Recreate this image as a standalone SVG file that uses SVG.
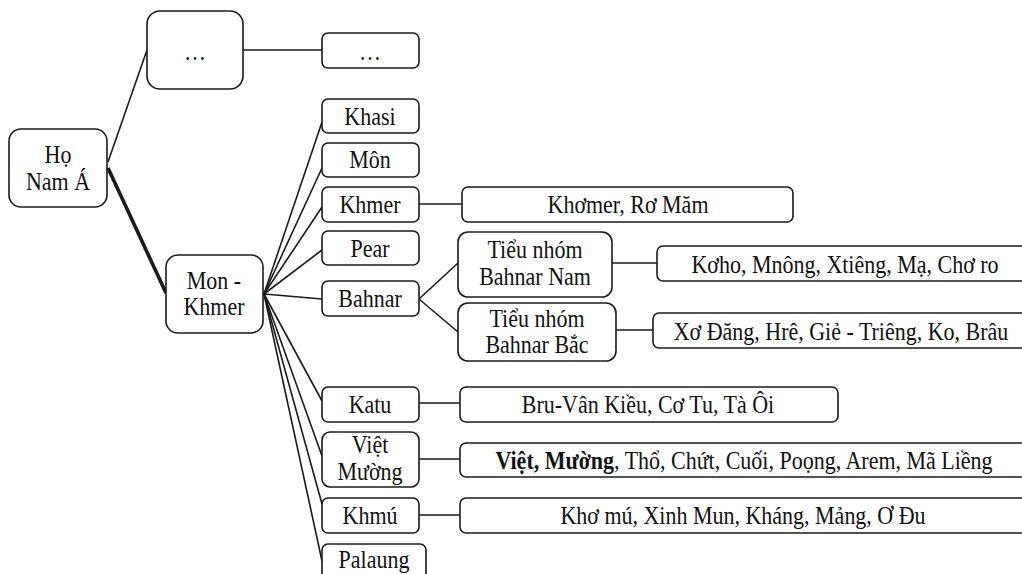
<svg xmlns="http://www.w3.org/2000/svg" width="1022" height="574" viewBox="0 0 1022 574" font-family="Liberation Serif, Times New Roman, DejaVu Serif, serif">
<style>
.b{fill:#fff;stroke:#1a1a1a;stroke-width:1.6}
.c line{stroke:#1a1a1a;stroke-width:1.6}
.t{font-size:25px;fill:#111;text-anchor:middle}
</style>
<rect width="1022" height="574" fill="#fff"/>
<g class="c" id="connectors">
<line x1="108" y1="162" x2="147" y2="50"/>
<line x1="108" y1="168" x2="166" y2="293" style="stroke-width:3.6"/>
<line x1="243" y1="50" x2="322" y2="50"/>
<line x1="264" y1="294" x2="322" y2="122"/>
<line x1="264" y1="294" x2="322" y2="168"/>
<line x1="264" y1="294" x2="322" y2="207"/>
<line x1="264" y1="294" x2="322" y2="250"/>
<line x1="264" y1="294" x2="322" y2="299"/>
<line x1="264" y1="294" x2="322" y2="401"/>
<line x1="264" y1="294" x2="322" y2="456"/>
<line x1="264" y1="294" x2="322" y2="504"/>
<line x1="264" y1="294" x2="322" y2="561"/>
<line x1="419" y1="204" x2="462" y2="204"/>
<line x1="419" y1="299" x2="458" y2="263"/>
<line x1="419" y1="299" x2="458" y2="332"/>
<line x1="612" y1="263" x2="657" y2="263"/>
<line x1="616" y1="330" x2="653" y2="330"/>
<line x1="419" y1="403" x2="460" y2="403"/>
<line x1="419" y1="459" x2="460" y2="459"/>
<line x1="419" y1="515" x2="460" y2="515"/>
</g>
<g id="ho-nam-a"><rect class="b" x="9" y="129" width="98" height="78" rx="12"/>
<text class="t" font-family="Liberation Serif, serif" transform="translate(58,163) scale(0.88,1)"><tspan x="0">Họ</tspan><tspan x="0" dy="27">Nam Á</tspan></text></g>
<g id="etc1"><rect class="b" x="147" y="11" width="96" height="78" rx="13"/>
<text class="t" font-family="Liberation Serif, serif" transform="translate(195,60) scale(0.88,1)">…</text></g>
<g id="etc2"><rect class="b" x="322" y="33" width="97" height="35" rx="6"/>
<text class="t" font-family="Liberation Serif, serif" transform="translate(370,60) scale(0.88,1)">…</text></g>
<g id="mon-khmer"><rect class="b" x="166" y="255" width="97" height="78" rx="12"/>
<text class="t" font-family="Liberation Serif, serif" transform="translate(214,289) scale(0.88,1)"><tspan x="0">Mon -</tspan><tspan x="0" dy="26">Khmer</tspan></text></g>
<g id="khasi"><rect class="b" x="322" y="99" width="97" height="34" rx="6"/>
<text class="t" font-family="Liberation Serif, serif" transform="translate(370,125) scale(0.88,1)">Khasi</text></g>
<g id="mon"><rect class="b" x="322" y="143" width="97" height="34" rx="6"/>
<text class="t" font-family="Liberation Serif, serif" transform="translate(370,168) scale(0.88,1)">Môn</text></g>
<g id="khmer"><rect class="b" x="322" y="187" width="97" height="35" rx="6"/>
<text class="t" font-family="Liberation Serif, serif" transform="translate(370,213) scale(0.88,1)">Khmer</text></g>
<g id="pear"><rect class="b" x="322" y="231" width="97" height="34" rx="6"/>
<text class="t" font-family="Liberation Serif, serif" transform="translate(370,257) scale(0.88,1)">Pear</text></g>
<g id="bahnar"><rect class="b" x="322" y="281" width="97" height="35" rx="6"/>
<text class="t" font-family="Liberation Serif, serif" transform="translate(370,307) scale(0.88,1)">Bahnar</text></g>
<g id="katu"><rect class="b" x="322" y="387" width="97" height="35" rx="6"/>
<text class="t" font-family="Liberation Serif, serif" transform="translate(370,413) scale(0.88,1)">Katu</text></g>
<g id="viet-muong"><rect class="b" x="322" y="432" width="97" height="55" rx="8"/>
<text class="t" font-family="Liberation Serif, serif" transform="translate(370,453) scale(0.88,1)"><tspan x="0">Việt</tspan><tspan x="0" dy="27">Mường</tspan></text></g>
<g id="khmu"><rect class="b" x="322" y="498" width="97" height="35" rx="6"/>
<text class="t" font-family="Liberation Serif, serif" transform="translate(370,524) scale(0.88,1)">Khmú</text></g>
<g id="palaung"><rect class="b" x="322" y="544" width="104" height="45" rx="6"/>
<text class="t" font-family="Liberation Serif, serif" transform="translate(374,568) scale(0.88,1)">Palaung</text></g>
<g id="khomer"><rect class="b" x="462" y="187" width="331" height="35" rx="6"/>
<text class="t" font-family="Liberation Serif, serif" transform="translate(628,213) scale(0.88,1)">Khơmer,  Rơ Măm</text></g>
<g id="bahnar-nam"><rect class="b" x="458" y="232" width="154" height="65" rx="10"/>
<text class="t" font-family="Liberation Serif, serif" transform="translate(535,258) scale(0.88,1)"><tspan x="0">Tiểu nhóm</tspan><tspan x="0" dy="27">Bahnar  Nam</tspan></text></g>
<g id="bahnar-bac"><rect class="b" x="458" y="303" width="158" height="58" rx="10"/>
<text class="t" font-family="Liberation Serif, serif" transform="translate(537,327) scale(0.88,1)"><tspan x="0">Tiểu nhóm</tspan><tspan x="0" dy="26">Bahnar  Bắc</tspan></text></g>
<g id="koho"><rect class="b" x="657" y="246" width="390" height="35" rx="6"/>
<text class="t" font-family="Liberation Serif, serif" transform="translate(845,273) scale(0.88,1)">Kơho, Mnông, Xtiêng, Mạ, Chơ ro</text></g>
<g id="xodang"><rect class="b" x="653" y="313" width="390" height="35" rx="6"/>
<text class="t" font-family="Liberation Serif, serif" transform="translate(841,340) scale(0.88,1)">Xơ Đăng, Hrê, Giẻ - Triêng, Ko, Brâu</text></g>
<g id="bru"><rect class="b" x="460" y="387" width="378" height="35" rx="6"/>
<text class="t" font-family="Liberation Serif, serif" transform="translate(648,413) scale(0.88,1)">Bru-Vân Kiều, Cơ Tu, Tà Ôi</text></g>
<g id="viet"><rect class="b" x="460" y="443" width="590" height="34" rx="6"/>
<text class="t" font-family="Liberation Serif, serif" transform="translate(744,469) scale(0.88,1)"><tspan font-weight="bold">Việt, Mường</tspan>, Thổ, Chứt, Cuối, Poọng, Arem, Mã Liềng</text></g>
<g id="khomu"><rect class="b" x="460" y="498" width="590" height="35" rx="6"/>
<text class="t" font-family="Liberation Serif, serif" transform="translate(743,524) scale(0.88,1)">Khơ mú, Xinh Mun, Kháng, Mảng, Ơ Đu</text></g>
</svg>
